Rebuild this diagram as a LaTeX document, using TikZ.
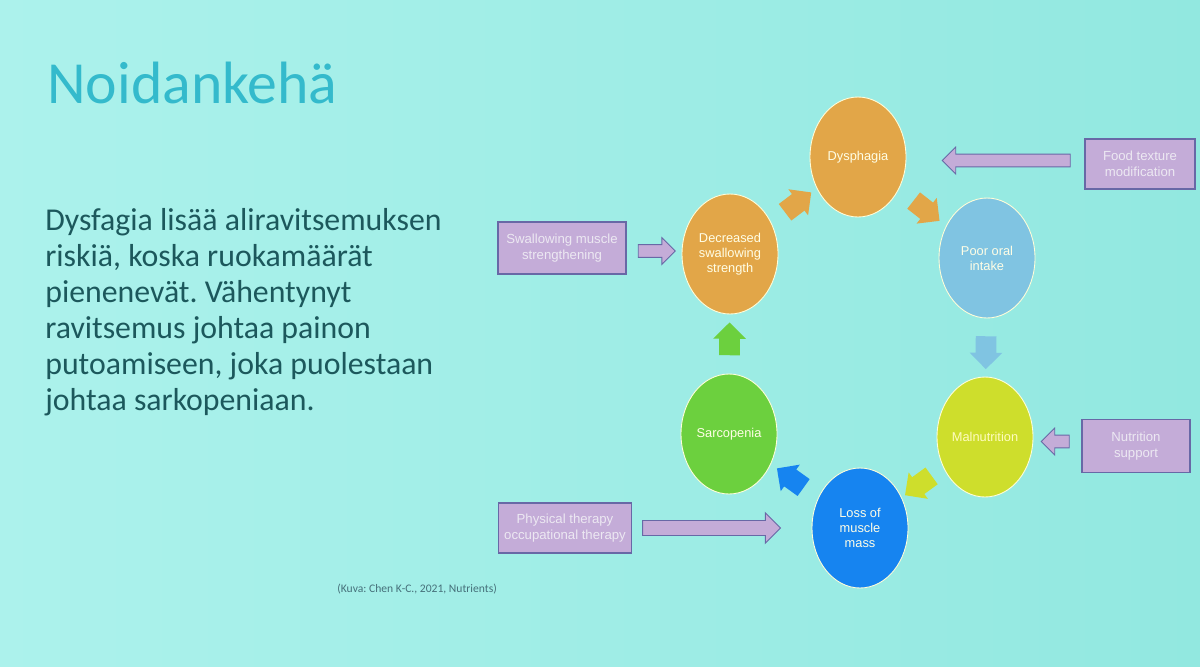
\documentclass[tikz,border=0pt]{standalone}
\usepackage{fontspec}
\setmainfont{Carlito}
\newfontfamily\arialfont{Liberation Sans}
\usetikzlibrary{shapes.geometric,shapes.arrows}
\frenchspacing

\definecolor{bgleft}{RGB}{172,242,236}
\definecolor{bgright}{RGB}{146,232,224}
\definecolor{titlecol}{RGB}{52,186,204}
\definecolor{bodycol}{RGB}{28,88,92}
\definecolor{citecol}{RGB}{70,112,122}
\definecolor{orangecirc}{RGB}{226,166,72}
\definecolor{bluecirc}{RGB}{128,196,226}
\definecolor{yellowcirc}{RGB}{206,222,44}
\definecolor{deepblue}{RGB}{22,132,240}
\definecolor{greencirc}{RGB}{108,208,62}
\definecolor{boxfill}{RGB}{196,172,216}
\definecolor{boxline}{RGB}{104,104,166}
\definecolor{boxtext}{RGB}{236,232,242}

\tikzset{
  cyc/.style={ellipse, minimum width=1.92cm, minimum height=2.4cm, inner sep=0pt,
    draw=yellow!15, line width=0.5pt, align=center, text=white!90!yellow,
    font=\arialfont\fontsize{7.3}{8.6}\selectfont},
  fixbox/.style={rectangle, fill=boxfill, draw=boxline, line width=0.6pt, align=center,
    text=boxtext, font=\arialfont\fontsize{7.5}{8.8}\selectfont},
  cycarrow/.style={single arrow, minimum height=18.7pt, inner xsep=0pt, inner ysep=5.7pt,
    single arrow head extend=3.4pt, sloped, allow upside down},
  fixarrow/.style={single arrow, fill=boxfill, draw=boxline, line width=0.5pt,
    inner xsep=0pt, inner ysep=3.4pt, single arrow head extend=4pt}
}

\begin{document}
\begin{tikzpicture}[x=0.02cm, y=-0.02cm]
    \useasboundingbox (0,0) rectangle (1200,666);
    \shade[left color=bgleft, right color=bgright] (0,0) rectangle (1200,666);

    % title and text
    \node[anchor=base west, inner sep=0pt, text=titlecol, font=\fontsize{34}{38}\selectfont] (title) at (47,103) {Noidankehä};
    \foreach \line [count=\i] in {{Dysfagia lisää aliravitsemuksen}, {riskiä, koska ruokamäärät},
        {pienenevät. Vähentynyt}, {ravitsemus johtaa painon},
        {putoamiseen, joka puolestaan}, {johtaa sarkopeniaan.}}
        \node[anchor=base west, inner sep=0pt, text=bodycol, font=\fontsize{18.1}{20}\selectfont] (line\i) at (45,194+36*\i) {\line};
    \node[anchor=west, inner sep=0pt, text=citecol, font=\fontsize{6.6}{7}\selectfont] (cite) at (337,589) {(Kuva: Chen K-C., 2021, Nutrients)};

    % the circle
    \node[cyc, fill=orangecirc] (dys) at (858,157) {Dysphagia};
    \node[cyc, fill=orangecirc] (dec) at (730,254) {Decreased\\swallowing\\strength};
    \node[cyc, fill=bluecirc] (poor) at (987,258) {Poor oral\\intake};
    \node[cyc, fill=yellowcirc, text=white!75!yellow] (mal) at (985,437) {Malnutrition};
    \node[cyc, fill=deepblue] (loss) at (860,528) {Loss of\\muscle\\mass};
    \node[cyc, fill=greencirc] (sarc) at (729,434) {Sarcopenia};

    \path (dec) -- node[cycarrow, fill=orangecirc] {} (dys);
    \path (dys) -- node[cycarrow, fill=orangecirc] {} (poor);
    \path (poor) -- node[cycarrow, fill=bluecirc] {} (mal);
    \path (mal) -- node[cycarrow, fill=yellowcirc] {} (loss);
    \path (loss) -- node[cycarrow, fill=deepblue] {} (sarc);
    \path (sarc) -- node[cycarrow, fill=greencirc] {} (dec);

    % interventions
    \node[fixbox, minimum width=2.2cm, minimum height=1.0cm] (food) at (1140,164) {Food texture\\modification};
    \node[fixbox, minimum width=2.56cm, minimum height=1.04cm] (swal) at (562,248) {Swallowing muscle\\strengthening};
    \node[fixbox, minimum width=2.16cm, minimum height=1.06cm] (nutr) at (1136,446) {Nutrition\\support};
    \node[fixbox, minimum width=2.6cm, minimum height=1.0cm] (phys) at (565,528) {Physical therapy\\occupational therapy};

    \path (food.west) ++(-12,0) coordinate (f1);
    \path (dys.east) ++(40,0) coordinate (f2);
    \path (f1) -- node[fixarrow, minimum height=2.56cm, rotate=180] {} (f2);
    \path (swal.east) ++(9,0) coordinate (s1);
    \path (dec.west) ++(-10,0) coordinate (s2);
    \path (s1) -- node[fixarrow, minimum height=0.74cm] {} (s2);
    \path (nutr.west) ++(-10,0) coordinate (n1);
    \path (mal.east) ++(12,0) coordinate (n2);
    \path (n1) -- node[fixarrow, minimum height=0.56cm, rotate=180] {} (n2);
    \path (phys.east) ++(8,0) coordinate (p1);
    \path (loss.west) ++(-36,0) coordinate (p2);
    \path (p1) -- node[fixarrow, minimum height=2.76cm, inner ysep=4pt, single arrow head extend=4.4pt] {} (p2);
\end{tikzpicture}
\end{document}
